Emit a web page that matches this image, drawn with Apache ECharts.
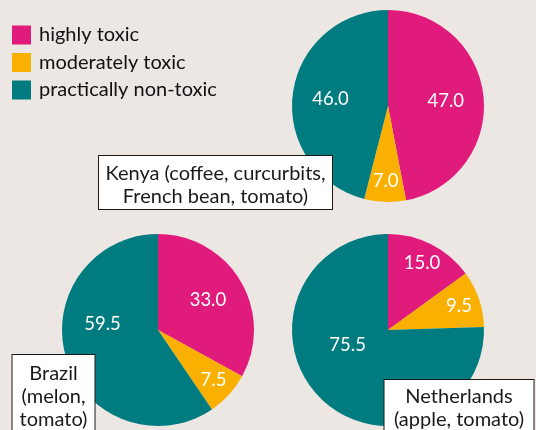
<!DOCTYPE html>
<html>
<head>
<meta charset="utf-8">
<script src="https://cdn.jsdelivr.net/npm/echarts@6/dist/echarts.min.js"></script>
<style>
  html, body { margin: 0; padding: 0; background: #ece7e3; }
  #chart { width: 536px; height: 430px; }
</style>
</head>
<body>
<div id="chart"></div>
<script>
// toxicity classes (legend)
var categories = ['highly toxic', 'moderately toxic', 'practically non-toxic'];
var colors = ['#e01b7b', '#f9b000', '#007b80'];

// share of pesticide use per class, %
var kenyaValues = [47.0, 7.0, 46.0];
var brazilValues = [33.0, 7.5, 59.5];
var netherlandsValues = [15.0, 9.5, 75.5];

var kenyaTitle = 'Kenya (coffee, curcurbits,\nFrench bean, tomato)';
var brazilTitle = 'Brazil\n(melon,\ntomato)';
var netherlandsTitle = 'Netherlands\n(apple, tomato)';

var font = 'Lato';

function makeData(values, showLabel) {
	var arr = [];
	for (var i = 0; i < values.length; i++) {
		arr.push({
			name: categories[i],
			value: values[i],
			label: { show: showLabel(values[i]) }
		});
	}
	return arr;
}

// one pie = the slices + two transparent copies that only carry the labels
// bigLabelDy: small upward nudge of the large slice's label, like the original
function pieSeries(values, center, bigLabelDy) {
	var base = {
		type: 'pie',
		center: center,
		startAngle: 90,
		clockwise: true,
		silent: true,
		animation: false,
		labelLine: { show: false },
		emphasis: { disabled: true }
	};
	var labelStyle = {
		position: 'inside',
		color: '#fff',
		fontFamily: font,
		fontSize: 18.5,
		formatter: function (p) { return p.value.toFixed(1); }
	};
	var slices = echarts.util.merge({
		radius: 96,
		label: { show: false },
		data: makeData(values, function () { return false; })
	}, base, true);
	var bigLabels = echarts.util.merge({
		radius: 110,
		z: 3,
		itemStyle: { color: 'rgba(0,0,0,0)' },
		label: labelStyle,
		labelLayout: function (p) {
			if (p.dataIndex === 2) {
				return { dy: bigLabelDy };
			}
		},
		data: makeData(values, function (v) { return v >= 20; })
	}, base, true);
	var smallLabels = echarts.util.merge({
		radius: 144,
		z: 3,
		itemStyle: { color: 'rgba(0,0,0,0)' },
		label: labelStyle,
		data: makeData(values, function (v) { return v < 20; })
	}, base, true);
	return [slices, bigLabels, smallLabels];
}

function titleBox(text, cx, top, width, padding) {
	return {
		type: 'text',
		z: 100,
		x: cx,
		y: top,
		style: {
			text: text,
			align: 'center',
			verticalAlign: 'top',
			font: '20px ' + font,
			lineHeight: 23,
			fill: '#1a1a1a',
			width: width,
			backgroundColor: '#fff',
			borderColor: '#1a1a1a',
			borderWidth: 1,
			padding: padding
		}
	};
}

var myChart = echarts.init(document.getElementById('chart'));

var option = {
	backgroundColor: '#ece7e3',
	animation: false,
	color: colors,
	legend: {
		orient: 'vertical',
		left: 7,
		top: 20,
		icon: 'rect',
		itemWidth: 19,
		itemHeight: 19,
		itemGap: 7.5,
		selectedMode: false,
		data: categories,
		textStyle: {
			fontFamily: font,
			fontSize: 20,
			lineHeight: 19,
			color: '#111',
			padding: [0, 0, 0, 3]
		}
	},
	graphic: [
		titleBox(kenyaTitle, 215.5, 156, 233, [6, 0, 1, 0]),
		titleBox(brazilTitle, 53.5, 355, 82, [7, 0, 4, 0]),
		titleBox(netherlandsTitle, 459, 380, 149, [5, 0, 4, 0])
	],
	series: [].concat(
		pieSeries(kenyaValues, [388, 106], 0),
		pieSeries(brazilValues, [158, 330], -23),
		pieSeries(netherlandsValues, [388, 330], -27)
	)
};

myChart.setOption(option);
</script>
</body>
</html>
